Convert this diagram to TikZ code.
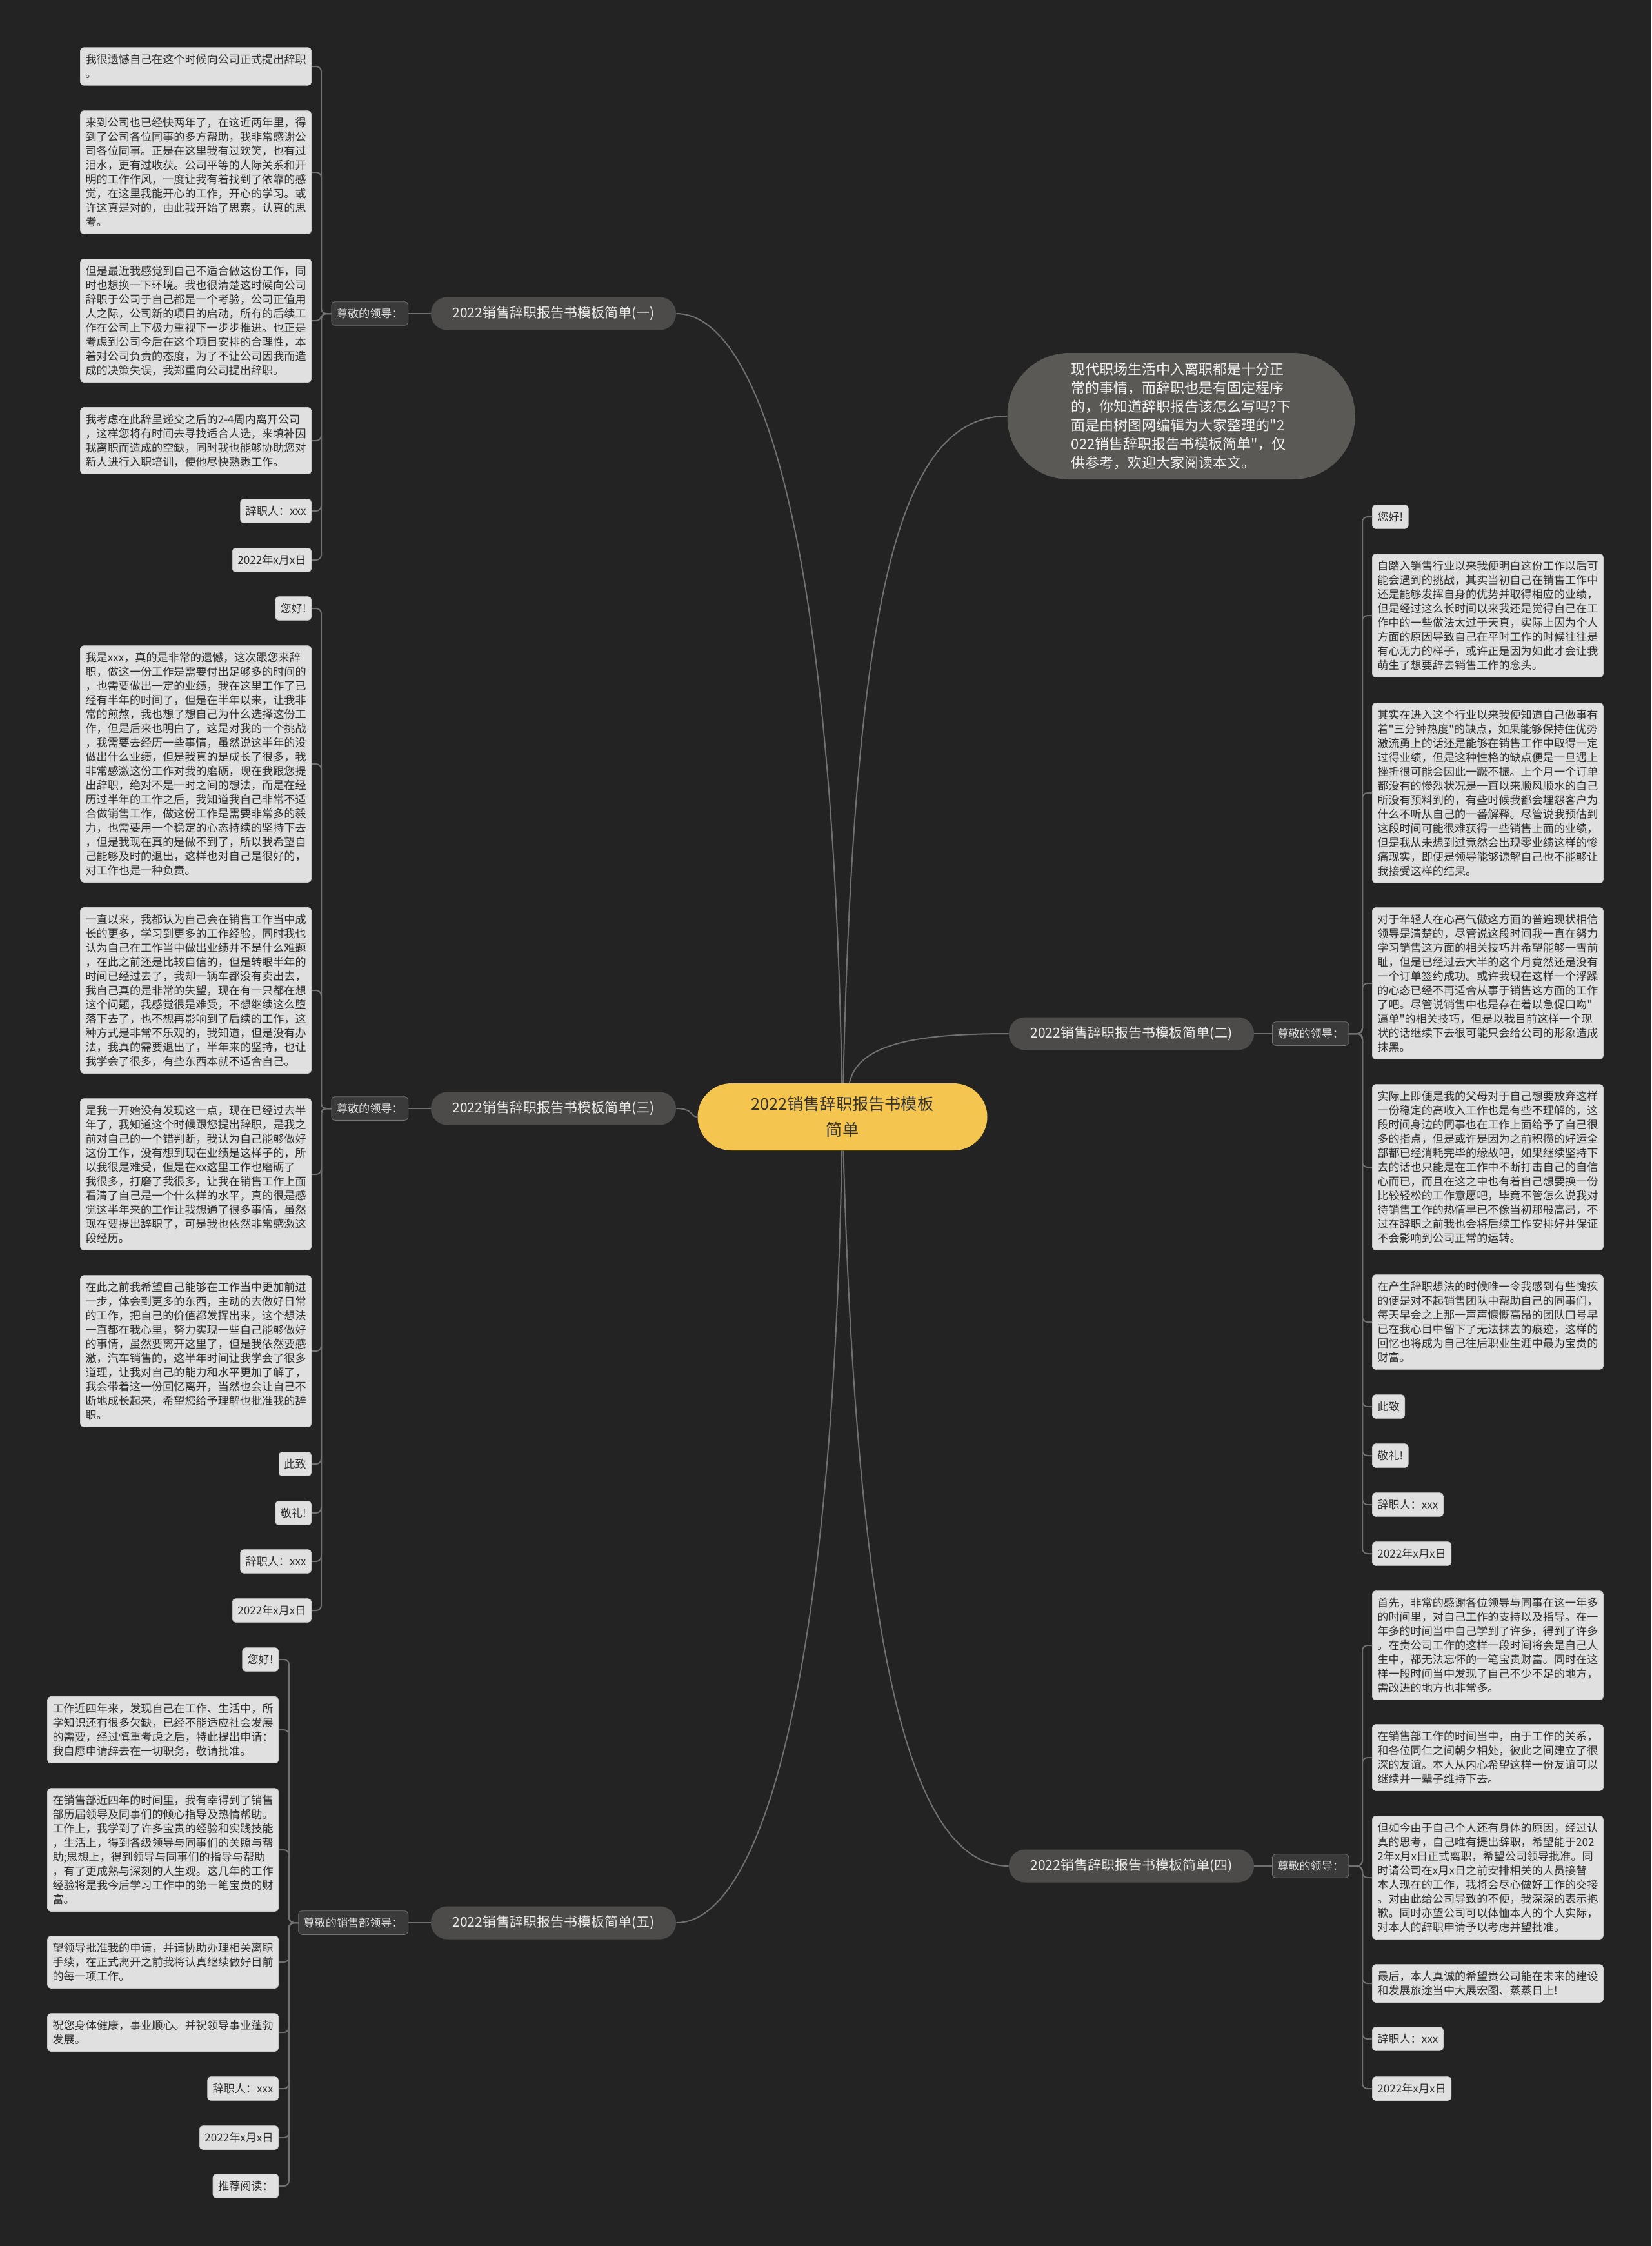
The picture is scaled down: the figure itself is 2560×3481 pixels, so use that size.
\documentclass[tikz,border=0pt]{standalone}
\usepackage{fontspec}
\setmainfont{Noto Sans CJK SC}[Ligatures=TeXOff]

\definecolor{bgdark}{HTML}{232323}
\definecolor{lineg}{HTML}{707070}
\definecolor{leafg}{HTML}{E0E0E0}
\definecolor{leafedge}{HTML}{C8C8C8}
\definecolor{leaftxt}{HTML}{2E2E2E}
\definecolor{branchg}{HTML}{4D4B49}
\definecolor{introg}{HTML}{5B5956}
\definecolor{hubyellow}{HTML}{F5C64F}
\definecolor{labg}{HTML}{3A3A3A}

\tikzset{
  conn/.style={draw=lineg, line width=1pt},
  fork/.style={conn, rounded corners=4pt},
  leaf/.style={draw=leafedge, line width=0.4pt, fill=leafg, rounded corners=2.5pt,
    inner xsep=4pt, inner ysep=5.2pt, text=leaftxt, align=left,
    font=\fontsize{8.55pt}{11pt}\selectfont},
  wide/.style={leaf, text width=171pt},
  lab/.style={leaf, fill=labg, draw=labg!70!white, text=leafg},
  branch/.style={fill=branchg, text=white!92!black, rounded corners=12.5pt,
    minimum width=190pt, minimum height=25.5pt, inner sep=0pt,
    font=\fontsize{10.5pt}{13pt}\selectfont},
  hub/.style={fill=hubyellow, text=black!80, rounded corners=26pt,
    minimum width=224.5pt, minimum height=52pt, inner sep=0pt, align=center,
    font=\fontsize{12.6pt}{20pt}\selectfont},
  intro/.style={fill=introg, text=white!95!black, rounded corners=48pt,
    minimum width=269.5pt, minimum height=98pt, inner sep=0pt, align=left,
    font=\fontsize{11pt}{14.5pt}\selectfont}
}

\begin{document}
\begin{tikzpicture}[x=0.5pt,y=-0.5pt]
\useasboundingbox (0,0) rectangle (2560,3481);
\fill[bgdark] (0,0) rectangle (2560,3481);

% centre, intro and the five branches
\node[hub] (ctr) at (1306,1731) {2022销售辞职报告书模板\\简单};
\node[intro] (intro) at (1831,645) {现代职场生活中入离职都是十分正\\常的事情，而辞职也是有固定程序\\的，你知道辞职报告该怎么写吗?下\\面是由树图网编辑为大家整理的"2\\022销售辞职报告书模板简单"，仅\\供参考，欢迎大家阅读本文。};
\node[branch] (b1) at (858,486) {2022销售辞职报告书模板简单(一)};
\node[branch] (b2) at (1754,1602) {2022销售辞职报告书模板简单(二)};
\node[branch] (b3) at (858,1718) {2022销售辞职报告书模板简单(三)};
\node[branch] (b4) at (1754,2892) {2022销售辞职报告书模板简单(四)};
\node[branch] (b5) at (858,2980) {2022销售辞职报告书模板简单(五)};

\node[lab, anchor=east] (lab1) at (633,486) {尊敬的领导：};
\node[lab, anchor=west] (lab2) at (1972,1602) {尊敬的领导：};
\node[lab, anchor=east] (lab3) at (633,1718) {尊敬的领导：};
\node[lab, anchor=west] (lab4) at (1972,2892) {尊敬的领导：};
\node[lab, anchor=east] (lab5) at (633,2980) {尊敬的销售部领导：};

\draw[conn] (ctr) .. controls (1290,800) and (1170,486) .. (b1.east);
\draw[conn] (ctr) .. controls (1325,900) and (1400,645) .. (intro.west);
\draw[conn] (ctr) .. controls (1330,1615) and (1430,1602) .. (b2.west);
\draw[conn] (ctr) .. controls (1070,1731) and (1075,1718) .. (b3.east);
\draw[conn] (ctr) .. controls (1330,2600) and (1420,2892) .. (b4.west);
\draw[conn] (ctr) .. controls (1290,2650) and (1170,2980) .. (b5.east);
\foreach \i in {1,...,5} \draw[conn] (b\i) -- (lab\i);

% (一)
\node[wide, anchor=east] (L1a) at (483,103) {我很遗憾自己在这个时候向公司正式提出辞职\\。};
\node[wide, anchor=east] (L1b) at (483,267) {来到公司也已经快两年了，在这近两年里，得\\到了公司各位同事的多方帮助，我非常感谢公\\司各位同事。正是在这里我有过欢笑，也有过\\泪水，更有过收获。公司平等的人际关系和开\\明的工作作风，一度让我有着找到了依靠的感\\觉，在这里我能开心的工作，开心的学习。或\\许这真是对的，由此我开始了思索，认真的思\\考。};
\node[wide, anchor=east] (L1c) at (483,497) {但是最近我感觉到自己不适合做这份工作，同\\时也想换一下环境。我也很清楚这时候向公司\\辞职于公司于自己都是一个考验，公司正值用\\人之际，公司新的项目的启动，所有的后续工\\作在公司上下极力重视下一步步推进。也正是\\考虑到公司今后在这个项目安排的合理性，本\\着对公司负责的态度，为了不让公司因我而造\\成的决策失误，我郑重向公司提出辞职。};
\node[wide, anchor=east] (L1d) at (483,683) {我考虑在此辞呈递交之后的2-4周内离开公司\\，这样您将有时间去寻找适合人选，来填补因\\我离职而造成的空缺，同时我也能够协助您对\\新人进行入职培训，使他尽快熟悉工作。};
\node[leaf, anchor=east] (L1e) at (483,792) {辞职人：xxx};
\node[leaf, anchor=east] (L1f) at (483,868) {2022年x月x日};
\coordinate (k1) at (498,486);
\foreach \n in {L1a,L1b,L1c,L1d,L1e,L1f} \draw[fork] (lab1.west) -- (k1) |- (\n.east);

% (三)
\node[leaf, anchor=east] (L3a) at (483,943) {您好!};
\node[wide, anchor=east] (L3b) at (483,1184) {我是xxx，真的是非常的遗憾，这次跟您来辞\\职，做这一份工作是需要付出足够多的时间的\\，也需要做出一定的业绩，我在这里工作了已\\经有半年的时间了，但是在半年以来，让我非\\常的煎熬，我也想了想自己为什么选择这份工\\作，但是后来也明白了，这是对我的一个挑战\\，我需要去经历一些事情，虽然说这半年的没\\做出什么业绩，但是我真的是成长了很多，我\\非常感激这份工作对我的磨砺，现在我跟您提\\出辞职，绝对不是一时之间的想法，而是在经\\历过半年的工作之后，我知道我自己非常不适\\合做销售工作，做这份工作是需要非常多的毅\\力，也需要用一个稳定的心态持续的坚持下去\\，但是我现在真的是做不到了，所以我希望自\\己能够及时的退出，这样也对自己是很好的，\\对工作也是一种负责。};
\node[wide, anchor=east] (L3c) at (483,1535) {一直以来，我都认为自己会在销售工作当中成\\长的更多，学习到更多的工作经验，同时我也\\认为自己在工作当中做出业绩并不是什么难题\\，在此之前还是比较自信的，但是转眼半年的\\时间已经过去了，我却一辆车都没有卖出去，\\我自己真的是非常的失望，现在有一只都在想\\这个问题，我感觉很是难受，不想继续这么堕\\落下去了，也不想再影响到了后续的工作，这\\种方式是非常不乐观的，我知道，但是没有办\\法，我真的需要退出了，半年来的坚持，也让\\我学会了很多，有些东西本就不适合自己。};
\node[wide, anchor=east] (L3d) at (483,1820) {是我一开始没有发现这一点，现在已经过去半\\年了，我知道这个时候跟您提出辞职，是我之\\前对自己的一个错判断，我认为自己能够做好\\这份工作，没有想到现在业绩是这样子的，所\\以我很是难受，但是在xx这里工作也磨砺了\\我很多，打磨了我很多，让我在销售工作上面\\看清了自己是一个什么样的水平，真的很是感\\觉这半年来的工作让我想通了很多事情，虽然\\现在要提出辞职了，可是我也依然非常感激这\\段经历。};
\node[wide, anchor=east] (L3e) at (483,2094) {在此之前我希望自己能够在工作当中更加前进\\一步，体会到更多的东西，主动的去做好日常\\的工作，把自己的价值都发挥出来，这个想法\\一直都在我心里，努力实现一些自己能够做好\\的事情，虽然要离开这里了，但是我依然要感\\激，汽车销售的，这半年时间让我学会了很多\\道理，让我对自己的能力和水平更加了解了，\\我会带着这一份回忆离开，当然也会让自己不\\断地成长起来，希望您给予理解也批准我的辞\\职。};
\node[leaf, anchor=east] (L3f) at (483,2269) {此致};
\node[leaf, anchor=east] (L3g) at (483,2345) {敬礼!};
\node[leaf, anchor=east] (L3h) at (483,2420) {辞职人：xxx};
\node[leaf, anchor=east] (L3i) at (483,2496) {2022年x月x日};
\coordinate (k3) at (498,1718);
\foreach \n in {L3a,L3b,L3c,L3d,L3e,L3f,L3g,L3h,L3i} \draw[fork] (lab3.west) -- (k3) |- (\n.east);

% (五)
\node[leaf, anchor=east] (L5a) at (432,2572) {您好!};
\node[wide, anchor=east] (L5b) at (432,2681) {工作近四年来，发现自己在工作、生活中，所\\学知识还有很多欠缺，已经不能适应社会发展\\的需要，经过慎重考虑之后，特此提出申请：\\我自愿申请辞去在一切职务，敬请批准。};
\node[wide, anchor=east] (L5c) at (432,2867) {在销售部近四年的时间里，我有幸得到了销售\\部历届领导及同事们的倾心指导及热情帮助。\\工作上，我学到了许多宝贵的经验和实践技能\\，生活上，得到各级领导与同事们的关照与帮\\助;思想上，得到领导与同事们的指导与帮助\\，有了更成熟与深刻的人生观。这几年的工作\\经验将是我今后学习工作中的第一笔宝贵的财\\富。};
\node[wide, anchor=east] (L5d) at (432,3041) {望领导批准我的申请，并请协助办理相关离职\\手续，在正式离开之前我将认真继续做好目前\\的每一项工作。};
\node[wide, anchor=east] (L5e) at (432,3150) {祝您身体健康，事业顺心。并祝领导事业蓬勃\\发展。};
\node[leaf, anchor=east] (L5f) at (432,3237) {辞职人：xxx};
\node[leaf, anchor=east] (L5g) at (432,3313) {2022年x月x日};
\node[leaf, anchor=east] (L5h) at (432,3388) {推荐阅读：};
\coordinate (k5) at (448,2980);
\foreach \n in {L5a,L5b,L5c,L5d,L5e,L5f,L5g,L5h} \draw[fork] (lab5.west) -- (k5) |- (\n.east);

% (二)
\node[leaf, anchor=west] (R2a) at (2127,801) {您好!};
\node[wide, anchor=west] (R2b) at (2127,954) {自踏入销售行业以来我便明白这份工作以后可\\能会遇到的挑战，其实当初自己在销售工作中\\还是能够发挥自身的优势并取得相应的业绩，\\但是经过这么长时间以来我还是觉得自己在工\\作中的一些做法太过于天真，实际上因为个人\\方面的原因导致自己在平时工作的时候往往是\\有心无力的样子，或许正是因为如此才会让我\\萌生了想要辞去销售工作的念头。};
\node[wide, anchor=west] (R2c) at (2127,1229) {其实在进入这个行业以来我便知道自己做事有\\着"三分钟热度"的缺点，如果能够保持住优势\\激流勇上的话还是能够在销售工作中取得一定\\过得业绩，但是这种性格的缺点便是一旦遇上\\挫折很可能会因此一蹶不振。上个月一个订单\\都没有的惨烈状况是一直以来顺风顺水的自己\\所没有预料到的，有些时候我都会埋怨客户为\\什么不听从自己的一番解释。尽管说我预估到\\这段时间可能很难获得一些销售上面的业绩，\\但是我从未想到过竟然会出现零业绩这样的惨\\痛现实，即便是领导能够谅解自己也不能够让\\我接受这样的结果。};
\node[wide, anchor=west] (R2d) at (2127,1524) {对于年轻人在心高气傲这方面的普遍现状相信\\领导是清楚的，尽管说这段时间我一直在努力\\学习销售这方面的相关技巧并希望能够一雪前\\耻，但是已经过去大半的这个月竟然还是没有\\一个订单签约成功。或许我现在这样一个浮躁\\的心态已经不再适合从事于销售这方面的工作\\了吧。尽管说销售中也是存在着以急促口吻"\\逼单"的相关技巧，但是以我目前这样一个现\\状的话继续下去很可能只会给公司的形象造成\\抹黑。};
\node[wide, anchor=west] (R2e) at (2127,1809) {实际上即便是我的父母对于自己想要放弃这样\\一份稳定的高收入工作也是有些不理解的，这\\段时间身边的同事也在工作上面给予了自己很\\多的指点，但是或许是因为之前积攒的好运全\\部都已经消耗完毕的缘故吧，如果继续坚持下\\去的话也只能是在工作中不断打击自己的自信\\心而已，而且在这之中也有着自己想要换一份\\比较轻松的工作意愿吧，毕竟不管怎么说我对\\待销售工作的热情早已不像当初那般高昂，不\\过在辞职之前我也会将后续工作安排好并保证\\不会影响到公司正常的运转。};
\node[wide, anchor=west] (R2f) at (2127,2049) {在产生辞职想法的时候唯一令我感到有些愧疚\\的便是对不起销售团队中帮助自己的同事们，\\每天早会之上那一声声慷慨高昂的团队口号早\\已在我心目中留下了无法抹去的痕迹，这样的\\回忆也将成为自己往后职业生涯中最为宝贵的\\财富。};
\node[leaf, anchor=west] (R2g) at (2127,2180) {此致};
\node[leaf, anchor=west] (R2h) at (2127,2256) {敬礼!};
\node[leaf, anchor=west] (R2i) at (2127,2332) {辞职人：xxx};
\node[leaf, anchor=west] (R2j) at (2127,2408) {2022年x月x日};
\coordinate (k2) at (2112,1602);
\foreach \n in {R2a,R2b,R2c,R2d,R2e,R2f,R2g,R2h,R2i,R2j} \draw[fork] (lab2.east) -- (k2) |- (\n.west);

% (四)
\node[wide, anchor=west] (R4a) at (2127,2550) {首先，非常的感谢各位领导与同事在这一年多\\的时间里，对自己工作的支持以及指导。在一\\年多的时间当中自己学到了许多，得到了许多\\。在贵公司工作的这样一段时间将会是自己人\\生中，都无法忘怀的一笔宝贵财富。同时在这\\样一段时间当中发现了自己不少不足的地方，\\需改进的地方也非常多。};
\node[wide, anchor=west] (R4b) at (2127,2724) {在销售部工作的时间当中，由于工作的关系，\\和各位同仁之间朝夕相处，彼此之间建立了很\\深的友谊。本人从内心希望这样一份友谊可以\\继续并一辈子维持下去。};
\node[wide, anchor=west] (R4c) at (2127,2910) {但如今由于自己个人还有身体的原因，经过认\\真的思考，自己唯有提出辞职，希望能于202\\2年x月x日正式离职，希望公司领导批准。同\\时请公司在x月x日之前安排相关的人员接替\\本人现在的工作，我将会尽心做好工作的交接\\。对由此给公司导致的不便，我深深的表示抱\\歉。同时亦望公司可以体恤本人的个人实际，\\对本人的辞职申请予以考虑并望批准。};
\node[wide, anchor=west] (R4d) at (2127,3074) {最后，本人真诚的希望贵公司能在未来的建设\\和发展旅途当中大展宏图、蒸蒸日上!};
\node[leaf, anchor=west] (R4e) at (2127,3160) {辞职人：xxx};
\node[leaf, anchor=west] (R4f) at (2127,3237) {2022年x月x日};
\coordinate (k4) at (2112,2892);
\foreach \n in {R4a,R4b,R4c,R4d,R4e,R4f} \draw[fork] (lab4.east) -- (k4) |- (\n.west);

\end{tikzpicture}
\end{document}
